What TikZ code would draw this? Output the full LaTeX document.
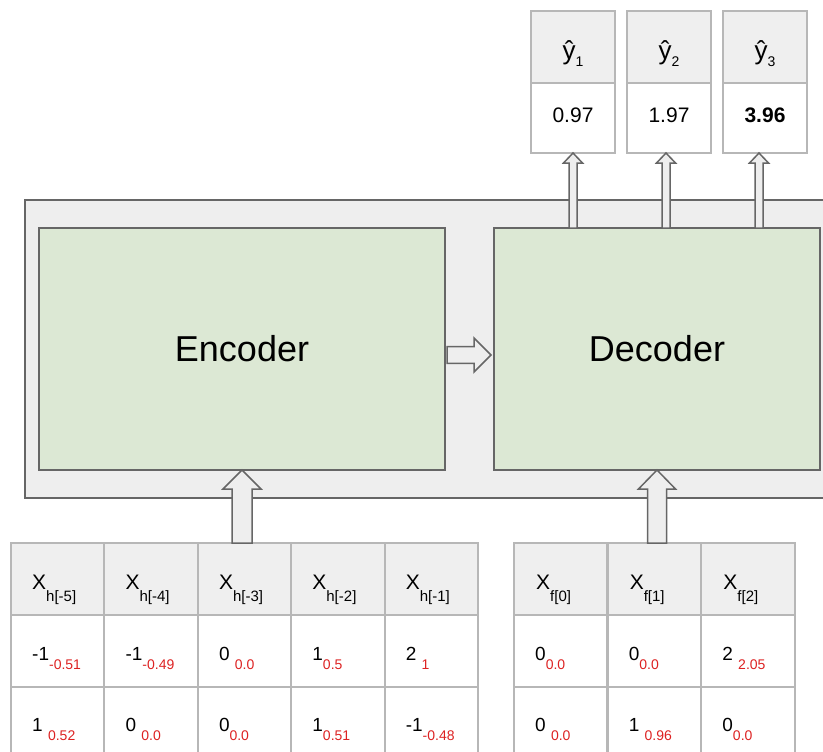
\documentclass[tikz,border=0pt]{standalone}
\usepackage{fontspec}
\setmainfont{Liberation Sans}
\usetikzlibrary{calc}

\definecolor{framefill}{HTML}{EEEEEE}
\definecolor{framedraw}{HTML}{666666}
\definecolor{blockfill}{HTML}{DCE8D4}
\definecolor{gridline}{HTML}{B7B7B7}
\definecolor{headfill}{HTML}{EFEFEF}
\definecolor{subred}{HTML}{DD2222}

\newcommand\fsz[1]{\fontsize{#1}{#1}\selectfont}
% a cell value with its lowered red subscript
\newcommand\vsub[2]{\fsz{19}#1\raisebox{-9pt}{\fsz{14}\color{subred}#2}}
% a column label X with its index
\newcommand\xsub[1]{\fsz{21}X\raisebox{-12pt}{\fsz{15}#1}}
% a predicted output label
\newcommand\yhat[1]{\fsz{26}ŷ\raisebox{-7pt}{\fsz{14}#1}}

% hollow block arrow pointing up: base, tip, shaft half width, head half width, head length
\newcommand\blockup[5]{\draw[blockarrow] let \p1=#1, \p2=#2 in
  (\x1-#3,\y1) -- (\x1-#3,\y2-#5) -- (\x1-#4,\y2-#5) -- (\x2,\y2)
  -- (\x1+#4,\y2-#5) -- (\x1+#3,\y2-#5) -- (\x1+#3,\y1) -- cycle;}
% hollow block arrow pointing right
\newcommand\blockright[5]{\draw[blockarrow] let \p1=#1, \p2=#2 in
  (\x1,\y1+#3) -- (\x2-#5,\y1+#3) -- (\x2-#5,\y1+#4) -- (\x2,\y1)
  -- (\x2-#5,\y1-#4) -- (\x2-#5,\y1-#3) -- (\x1,\y1-#3) -- cycle;}

\tikzset{
  cellbox/.style={draw=gridline, line width=2pt, minimum width=93.4pt,
    minimum height=72pt, inner sep=0pt, outer sep=0pt, anchor=north west},
  headcell/.style={cellbox, fill=headfill},
  valcell/.style={cellbox, fill=white},
  celltext/.style={anchor=base west, inner sep=0pt},
  outtext/.style={anchor=base, inner sep=0pt},
  blockarrow/.style={draw=framedraw, fill=framefill, line width=1.5pt, line join=miter},
  stage/.style={draw=framedraw, fill=blockfill, line width=2pt, minimum height=242pt,
    inner sep=0pt, outer sep=0pt, anchor=north west, font=\fsz{36}},
  framebox/.style={draw=framedraw, fill=framefill, line width=2pt, inner sep=0pt,
    outer sep=0pt, anchor=north west},
}

\begin{document}
\begin{tikzpicture}[x=1pt, y=-1pt]
\useasboundingbox (0,0) rectangle (823,752);
\clip (0,0) rectangle (823,752);

% model frame with the two stages
\node[framebox, minimum width=820pt, minimum height=298pt] (frame) at (25,200) {};
\node[stage, minimum width=406pt] (enc) at (39,228) {Encoder};
\node[stage, minimum width=326pt] (dec) at (494,228) {Decoder};

% history inputs
\foreach \c/\idx/\ra/\rb in {
  1/{h[-5]}/{\vsub{-1}{-0.51}}/{\vsub{1\ }{0.52}},
  2/{h[-4]}/{\vsub{-1}{-0.49}}/{\vsub{0\ }{0.0}},
  3/{h[-3]}/{\vsub{0\ }{0.0}}/{\vsub{0}{0.0}},
  4/{h[-2]}/{\vsub{1}{0.5}}/{\vsub{1}{0.51}},
  5/{h[-1]}/{\vsub{2\ }{1}}/{\vsub{-1}{-0.48}}}
{
  \node[headcell] (h\c-0) at ({11+93.4*(\c-1)},543) {};
  \node[valcell]  (h\c-1) at ({11+93.4*(\c-1)},615) {};
  \node[valcell]  (h\c-2) at ({11+93.4*(\c-1)},687) {};
  \node[celltext] (h\c-0t) at ($(h\c-0.north west)+(21,46)$) {\xsub{\idx}};
  \node[celltext] (h\c-1t) at ($(h\c-1.north west)+(21,45)$) {\ra};
  \node[celltext] (h\c-2t) at ($(h\c-2.north west)+(21,44)$) {\rb};
}

% known future inputs
\foreach \c/\idx/\ra/\rb in {
  1/{f[0]}/{\vsub{0}{0.0}}/{\vsub{0\ }{0.0}},
  2/{f[1]}/{\vsub{0}{0.0}}/{\vsub{1\ }{0.96}},
  3/{f[2]}/{\vsub{2\ }{2.05}}/{\vsub{0}{0.0}}}
{
  \node[headcell] (f\c-0) at ({514+93.6*(\c-1)},543) {};
  \node[valcell]  (f\c-1) at ({514+93.6*(\c-1)},615) {};
  \node[valcell]  (f\c-2) at ({514+93.6*(\c-1)},687) {};
  \node[celltext] (f\c-0t) at ($(f\c-0.north west)+(22,46)$) {\xsub{\idx}};
  \node[celltext] (f\c-1t) at ($(f\c-1.north west)+(21,45)$) {\ra};
  \node[celltext] (f\c-2t) at ($(f\c-2.north west)+(21,44)$) {\rb};
}

% forecast outputs
\foreach \i/\x/\v in {1/531/{0.97}, 2/627/{1.97}, 3/723/{\bfseries 3.96}}
{
  \node[headcell, minimum width=84pt, minimum height=72pt] (yh\i) at (\x,11) {};
  \node[valcell, minimum width=84pt, minimum height=70pt] (yv\i) at (\x,83) {};
  \node[outtext] (yh\i t) at ($(yh\i.north)+(0,49)$) {\yhat{\i}};
  \node[outtext] (yv\i t) at ($(yv\i.north)+(0,40)$) {\fsz{21}\v};
}

% arrows
\blockup{(enc.south |- h3-0.north)}{(enc.south)}{10pt}{19pt}{19pt}
\blockup{(dec.south |- f2-0.north)}{(dec.south)}{9.5pt}{18.5pt}{19pt}
\blockright{([shift={(2,6)}]enc.east)}{([shift={(-3,6)}]dec.west)}{8.3pt}{17pt}{17pt}

\coordinate (o1) at (yv1.south);
\coordinate (o2) at ([xshift=-3pt]yv2.south);
\coordinate (o3) at ([xshift=-6pt]yv3.south);
\blockup{(o1 |- dec.north)}{(o1)}{4pt}{9.5pt}{10pt}
\blockup{(o2 |- dec.north)}{(o2)}{4pt}{9.5pt}{10pt}
\blockup{(o3 |- dec.north)}{(o3)}{4pt}{9.5pt}{10pt}
\end{tikzpicture}
\end{document}
